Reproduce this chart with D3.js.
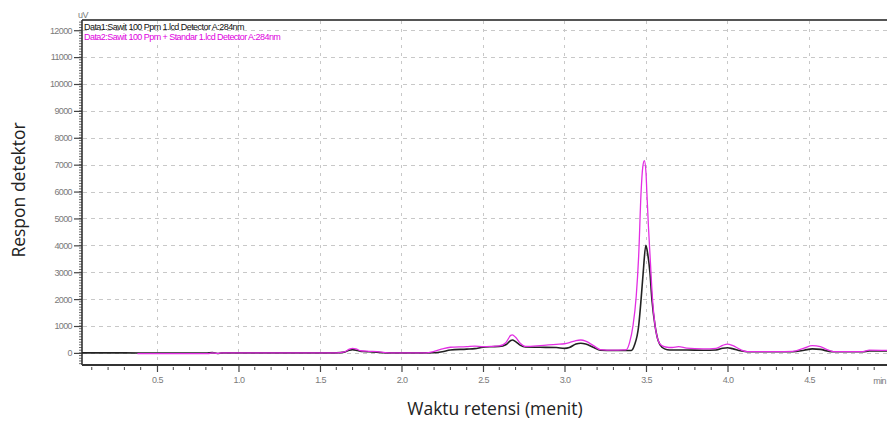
<!DOCTYPE html>
<html>
<head>
<meta charset="utf-8">
<script src="https://cdn.jsdelivr.net/npm/d3@7"></script>
<style>
  html, body { margin: 0; padding: 0; background: #fff; overflow: hidden; }
  svg { display: block; }
</style>
</head>
<body>
<svg id="chart" width="887" height="421"></svg>
<script>
// ---- Data ----
const legendLabels = [
  "Data1:Sawit 100 Ppm 1.lcd Detector A:284nm",
  "Data2:Sawit 100 Ppm + Standar 1.lcd Detector A:284nm"
];
const xTickValues = [0.5, 1.0, 1.5, 2.0, 2.5, 3.0, 3.5, 4.0, 4.5];
const yTickValues = [0, 1000, 2000, 3000, 4000, 5000, 6000, 7000, 8000, 9000, 10000, 11000, 12000];

// Data1 (black): retention time (min)
const data1Time = [0.04, 0.3, 0.5, 0.8, 0.84, 0.87, 0.9, 1.2, 1.6, 1.65, 1.68, 1.70, 1.73, 1.76, 1.8, 1.85, 1.9,
  2.1, 2.2, 2.25, 2.3, 2.4, 2.45, 2.5, 2.55, 2.6, 2.64, 2.67, 2.68, 2.70, 2.73, 2.76, 2.85, 2.95, 3.0, 3.03, 3.07,
  3.1, 3.13, 3.18, 3.22, 3.3, 3.38, 3.41, 3.43, 3.455, 3.47, 3.483, 3.499, 3.51, 3.524, 3.536, 3.556, 3.575, 3.6,
  3.63, 3.66, 3.75, 3.85, 3.93, 3.97, 4.0, 4.03, 4.08, 4.12, 4.3, 4.4, 4.47, 4.52, 4.57, 4.62, 4.65, 4.83, 4.87, 4.99];
// Data1 response (uV)
const data1Resp = [0, 0, -5, -5, 10, -20, 0, 0, 0, 30, 100, 120, 90, 50, 40, 30, 0,
  0, 5, 40, 110, 140, 160, 210, 230, 240, 300, 460, 480, 420, 280, 220, 210, 200, 170, 200, 330,
  360, 330, 200, 100, 90, 90, 90, 300, 1000, 2000, 3000, 4000, 3700, 3000, 2000, 1000, 450, 200,
  120, 110, 110, 100, 110, 170, 190, 160, 80, 40, 40, 45, 100, 150, 130, 60, 40, 40, 70, 70];

// Data2 (magenta): retention time (min)
const data2Time = [0.38, 0.6, 0.82, 0.84, 0.87, 0.9, 1.2, 1.6, 1.65, 1.68, 1.70, 1.72, 1.75, 1.8, 1.85, 1.9, 1.95,
  2.15, 2.2, 2.25, 2.3, 2.4, 2.45, 2.5, 2.55, 2.6, 2.64, 2.67, 2.68, 2.70, 2.73, 2.76, 2.85, 2.95, 3.0, 3.03, 3.07,
  3.1, 3.13, 3.18, 3.22, 3.3, 3.36, 3.38, 3.40, 3.42, 3.44, 3.455, 3.47, 3.48, 3.49, 3.50, 3.505, 3.515, 3.525,
  3.54, 3.556, 3.57, 3.59, 3.62, 3.66, 3.7, 3.75, 3.85, 3.93, 3.97, 4.0, 4.03, 4.08, 4.12, 4.3, 4.4, 4.47, 4.52,
  4.57, 4.62, 4.65, 4.83, 4.87, 4.99];
// Data2 response (uV)
const data2Resp = [-25, -25, -25, 0, -20, 0, 0, 0, 40, 140, 170, 150, 80, 60, 50, 10, 0,
  0, 60, 150, 210, 230, 250, 230, 240, 260, 380, 650, 670, 580, 350, 240, 270, 320, 340, 380, 460,
  480, 440, 260, 120, 100, 110, 120, 400, 1000, 2100, 3600, 6000, 6900, 7150, 6700, 6000, 4700, 3600,
  2000, 1000, 550, 300, 220, 200, 230, 180, 150, 170, 280, 330, 280, 120, 50, 50, 60, 180, 270,
  230, 100, 50, 50, 100, 90];

// ---- Layout ----
const svg = d3.select("#chart");
const pLeft = 82, pTop = 20, pBottom = 365, pRight = 890.5;
const x = d3.scaleLinear().domain([0.04, 5.0]).range([pLeft, pRight]);
const y = d3.scaleLinear().domain([-450, 12380]).range([pBottom, pTop]);

const tickFont = "'Liberation Sans', Arial, sans-serif";

// Clip
svg.append("defs").append("clipPath").attr("id", "plotClip")
  .append("rect").attr("x", pLeft).attr("y", pTop).attr("width", pRight - pLeft).attr("height", pBottom - pTop);

// Grid lines
const grid = svg.append("g");
grid.selectAll("line.h").data(yTickValues).join("line")
  .attr("x1", pLeft + 1).attr("x2", pRight)
  .attr("y1", d => Math.round(y(d)) + 0.5).attr("y2", d => Math.round(y(d)) + 0.5)
  .attr("stroke", "#c8c8c8").attr("stroke-width", 1).attr("stroke-dasharray", "4,4");
grid.selectAll("line.v").data(xTickValues).join("line")
  .attr("x1", d => Math.round(x(d)) + 0.5).attr("x2", d => Math.round(x(d)) + 0.5)
  .attr("y1", pTop + 1).attr("y2", pBottom)
  .attr("stroke", "#c8c8c8").attr("stroke-width", 1).attr("stroke-dasharray", "3,5");

// Axes
const yAxis = d3.axisLeft(y).tickValues(yTickValues).tickSize(8).tickPadding(2).tickFormat(d3.format("d"));
const gy = svg.append("g").attr("transform", `translate(${pLeft},0)`).call(yAxis);
const yMinor = d3.range(-400, 12400, 100);
svg.append("g").selectAll("line").data(yMinor).join("line")
  .attr("x1", pLeft - 3).attr("x2", pLeft)
  .attr("y1", d => y(d)).attr("y2", d => y(d))
  .attr("stroke", "#444").attr("stroke-width", 0.8);

const xAxis = d3.axisBottom(x).tickValues(xTickValues).tickSize(7).tickPadding(5).tickFormat(d3.format(".1f"));
const gx = svg.append("g").attr("transform", `translate(0,${pBottom})`).call(xAxis);
const xMinor = d3.range(0.1, 5.0, 0.1).filter(v => Math.abs(v * 2 - Math.round(v * 2)) > 1e-6);
svg.append("g").selectAll("line").data(xMinor).join("line")
  .attr("x1", d => x(d)).attr("x2", d => x(d))
  .attr("y1", pBottom + 2).attr("y2", pBottom + 5)
  .attr("stroke", "#444").attr("stroke-width", 1);

[gx, gy].forEach(g => {
  g.select(".domain").remove();
  g.selectAll(".tick line").attr("stroke", "#444").attr("stroke-width", 1.2);
  g.selectAll(".tick text").attr("fill", "#7a7a7a")
    .style("font-family", tickFont).style("font-size", "9px").style("letter-spacing", "-0.6px");
});
gx.selectAll(".tick line").attr("y1", 1);

// Frame lines
svg.append("line").attr("x1", pLeft).attr("x2", pRight).attr("y1", pTop).attr("y2", pTop)
  .attr("stroke", "#555").attr("stroke-width", 2);
svg.append("line").attr("x1", pLeft).attr("x2", pLeft).attr("y1", pTop).attr("y2", pBottom)
  .attr("stroke", "#333").attr("stroke-width", 1.6);
svg.append("line").attr("x1", pLeft).attr("x2", pRight).attr("y1", pBottom).attr("y2", pBottom)
  .attr("stroke", "#333").attr("stroke-width", 1.8);

// Unit labels
svg.append("text").attr("x", 78).attr("y", 18).text("uV")
  .attr("fill", "#7a7a7a").style("font-family", tickFont).style("font-size", "9px").style("letter-spacing", "-0.6px");
svg.append("text").attr("x", 886).attr("y", 384).attr("text-anchor", "end").text("min")
  .attr("fill", "#7a7a7a").style("font-family", tickFont).style("font-size", "9px").style("letter-spacing", "-0.6px");

// Traces
const line = d3.line().x(d => x(d[0])).y(d => y(d[1])).curve(d3.curveMonotoneX);
const s1 = data1Time.map((t, i) => [t, data1Resp[i]]);
const s2 = data2Time.map((t, i) => [t, data2Resp[i]]);
const plot = svg.append("g").attr("clip-path", "url(#plotClip)");
plot.append("path").datum(s1).attr("d", line).attr("fill", "none")
  .attr("stroke", "#222").attr("stroke-width", 1.6);
plot.append("path").datum(s2).attr("d", line).attr("fill", "none")
  .attr("stroke", "#e32ee3").attr("stroke-width", 1.3);

// Legend (in-plot header text)
const legColors = ["#111", "#e000e0"];
svg.append("g").selectAll("text").data(legendLabels).join("text")
  .attr("x", 84).attr("y", (d, i) => 30 + i * 10)
  .attr("fill", (d, i) => legColors[i])
  .style("font-family", tickFont).style("font-size", "9px").style("letter-spacing", "-0.55px")
  .text(d => d);

// Axis titles
const titleFont = "'Open Sans', sans-serif";
svg.append("text").attr("transform", "translate(25,190) rotate(-90)")
  .attr("text-anchor", "middle").attr("fill", "#222")
  .style("font-family", titleFont).style("font-size", "17.5px")
  .text("Respon detektor");
svg.append("text").attr("x", 495).attr("y", 415)
  .attr("text-anchor", "middle").attr("fill", "#222")
  .style("font-family", titleFont).style("font-size", "17.5px")
  .text("Waktu retensi (menit)");
</script>
</body>
</html>
